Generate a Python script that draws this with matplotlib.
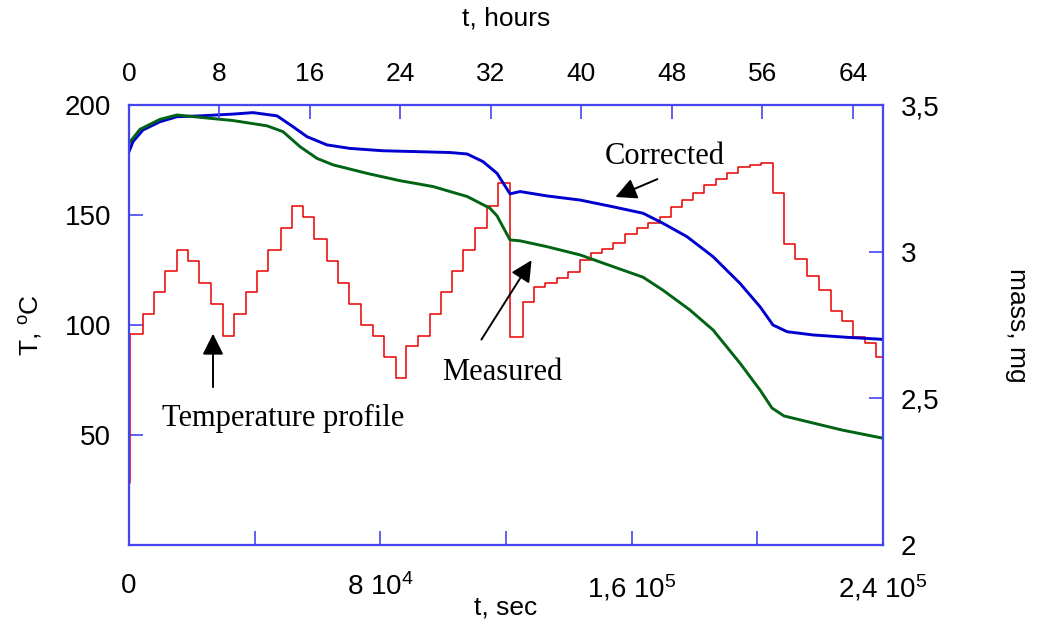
import matplotlib
matplotlib.use("Agg")
import numpy as np
import matplotlib.pyplot as plt
from matplotlib.ticker import FixedLocator

plt.rcParams["font.family"] = ["Liberation Sans", "DejaVu Sans"]

# temperature profile: step start times (hours) and levels (deg C)
step_hours = [0, 0.1, 1.24, 2.21, 3.18, 4.24, 5.22, 6.19, 7.25, 8.31, 9.28,
              10.34, 11.32, 12.29, 13.44, 14.41, 15.38, 16.36, 17.51, 18.48, 19.45,
              20.51, 21.57, 22.55, 23.61, 24.49, 25.55, 26.61, 27.59, 28.56, 29.53,
              30.59, 31.65, 32.63, 33.69, 34.84, 35.81, 36.78, 37.84, 38.82, 39.88,
              40.85, 41.82, 42.79, 43.85, 44.92, 45.89, 46.95, 47.92, 48.89, 49.87,
              50.84, 51.90, 52.87, 53.85, 54.91, 55.88, 56.94, 57.91, 58.89, 59.95,
              61.01, 62.07, 63.04, 64.01, 65.08, 66.05, 66.67]
step_temp = [28, 96, 105, 115, 124.5, 134, 129, 119, 109.5, 95, 105,
             115, 124.5, 134, 144, 154, 149, 139, 129, 119, 109.5,
             100, 95, 85.6, 76, 90.5, 95, 105, 115, 124.5, 134,
             144, 154, 164.5, 94.7, 110.6, 117.4, 119.2, 121.2, 124.2, 129.5,
             132.6, 134.4, 137.4, 141.2, 144, 146.5, 149.2, 153.8, 156.8, 159.8,
             163.6, 166.2, 169, 172, 172.8, 173.8, 159.8, 136.8, 130, 122.4,
             116, 106.5, 102, 94.7, 92, 85.6, 85.6]

# corrected mass (mg)
corr_hours = [0, 0.18, 0.35, 1.24, 2.74, 4.24, 6.28, 9.2, 10.96, 13.09, 14.5,
              15.74, 17.5, 19.54, 22.46, 25.46, 28.38, 29.9, 31.3, 32.54, 33.69,
              34.57, 36.96, 39.88, 42.8, 45.45, 47.2, 49.34, 51.64, 54.02, 55.8,
              56.94, 58.2, 60.5, 63.5, 66.67]
corr_mass = [3.341, 3.358, 3.375, 3.415, 3.443, 3.460, 3.463, 3.469, 3.474, 3.463, 3.426,
             3.392, 3.364, 3.352, 3.344, 3.341, 3.338, 3.333, 3.307, 3.267, 3.197,
             3.205, 3.190, 3.176, 3.153, 3.131, 3.097, 3.051, 2.983, 2.892, 2.812,
             2.750, 2.727, 2.716, 2.708, 2.701]

# measured mass (mg)
meas_hours = [0, 0.97, 2.74, 4.24, 6.28, 9.2, 12.2, 13.62, 15.12, 16.62, 18.04,
              21.04, 23.96, 26.88, 29.9, 31.92, 32.54, 33.69, 34.57, 36.96, 39.88,
              42.8, 45.45, 47.2, 49.6, 51.64, 54.02, 55.8, 56.85, 57.91, 60.04,
              63.04, 66.67]
meas_mass = [3.370, 3.417, 3.451, 3.466, 3.458, 3.447, 3.429, 3.409, 3.358, 3.318, 3.296,
             3.267, 3.242, 3.222, 3.188, 3.148, 3.122, 3.040, 3.037, 3.017, 2.989,
             2.949, 2.913, 2.869, 2.801, 2.733, 2.620, 2.528, 2.467, 2.440, 2.420,
             2.392, 2.364]

SPINE = "#4646f0"

fig = plt.figure(figsize=(10.38, 6.2), dpi=100)
ax = fig.add_axes([129 / 1038, 75 / 620, 754 / 1038, 440 / 620])
ax2 = ax.twinx()
ax3 = ax.twiny()

ax.step(np.array(step_hours) * 3600, step_temp, where="post", color="#e80000", lw=1.1)
ax2.plot(np.array(corr_hours) * 3600, corr_mass, color="#0000d0", lw=2.1)
ax2.plot(np.array(meas_hours) * 3600, meas_mass, color="#006414", lw=2.1)

ax.set_xlim(0, 2.4e5)
ax.set_ylim(0, 200)
ax2.set_ylim(2, 3.5)
ax3.set_xlim(0, 2.4e5 / 3600)

ax.set_xticks([0, 8e4, 1.6e5, 2.4e5])
ax.set_xticklabels(["0", r"8 10$\mathregular{^4}$", r"1,6 10$\mathregular{^5}$",
                    r"2,4 10$\mathregular{^5}$"])
ax.xaxis.set_minor_locator(FixedLocator([4e4, 1.2e5, 2e5]))
ax.set_yticks([50, 100, 150, 200])
ax2.set_yticks([2, 2.5, 3, 3.5])
ax2.set_yticklabels(["2", "2,5", "3", "3,5"])
ax3.set_xticks(range(0, 65, 8))

for a in (ax, ax2, ax3):
    for s in a.spines.values():
        s.set_color(SPINE)
        s.set_linewidth(1.5)
    a.tick_params(which="both", direction="in", length=10, width=1.2, color=SPINE,
                  labelsize=20, pad=13)
ax.tick_params(axis="x", pad=20)
ax3.tick_params(axis="x", labelsize=19, pad=14)

ax.set_xlabel("t, sec", fontsize=19, labelpad=-6)
ax.set_ylabel("T, $\\mathregular{^o}$C", fontsize=19, labelpad=15)
ax2.set_ylabel("mass, mg", fontsize=19, rotation=270, labelpad=64)
ax3.set_xlabel("t, hours", fontsize=19, labelpad=26)

serif = ["Liberation Serif", "DejaVu Serif"]
arrow = dict(arrowstyle="-|>", color="black", lw=1.4, mutation_scale=32)
ax.annotate("", xy=(154000, 157.7), xytext=(169000, 166.8), arrowprops=arrow)
ax.text(170600, 176.4, "Corrected", family=serif, fontsize=22, ha="center", va="center")
ax.annotate("", xy=(128600, 130.5), xytext=(111700, 92.3), arrowprops=arrow)
ax.text(118700, 78.6, "Measured", family=serif, fontsize=22, ha="center", va="center")
ax.annotate("", xy=(26740, 97.3), xytext=(26740, 70.5), arrowprops=arrow)
ax.text(49000, 57.7, "Temperature profile", family=serif, fontsize=22, ha="center", va="center")

fig.savefig("out.png", dpi=100)
